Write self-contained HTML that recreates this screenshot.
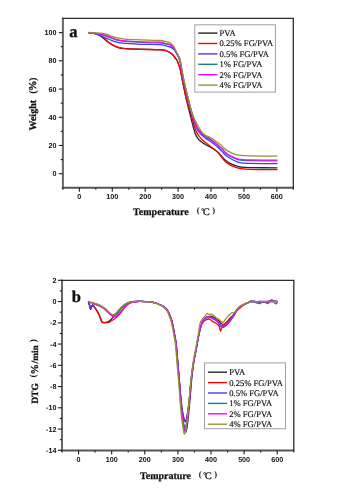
<!DOCTYPE html>
<html><head><meta charset="utf-8"><style>html,body{margin:0;padding:0;background:#fff;width:342px;height:491px;overflow:hidden}svg{display:block;will-change:transform;filter:blur(0.25px)}</style></head>
<body>
<svg width="342" height="491" viewBox="0 0 342 491">
<style>
text{font-family:"Liberation Serif",serif;fill:#111;text-rendering:geometricPrecision}
.tl{text-rendering:geometricPrecision;font-family:"Liberation Sans",sans-serif;font-size:7.2px;font-weight:bold;fill:#111}
.lg{font-size:8.6px;fill:#111;stroke:#111;stroke-width:0.15px}
.ti{font-size:10px;font-weight:bold;stroke:#111;stroke-width:0.25px}
.pl{font-size:16.5px;font-weight:bold;stroke:#111;stroke-width:0.3px}
</style>
<rect width="342" height="491" fill="#fff"/>
<line x1="62.90" y1="17.80" x2="62.90" y2="188.85" stroke="#666" stroke-width="2"/>
<line x1="61.90" y1="187.85" x2="293.90" y2="187.85" stroke="#555" stroke-width="2"/>
<line x1="61.90" y1="18.40" x2="293.95" y2="18.40" stroke="#2c2c2c" stroke-width="1.3"/>
<line x1="293.30" y1="18.40" x2="293.30" y2="187.85" stroke="#2c2c2c" stroke-width="1.3"/>
<line x1="58.80" y1="173.70" x2="62.90" y2="173.70" stroke="#1e1e1e" stroke-width="1.1"/>
<text x="56.4" y="176.25" class="tl" text-anchor="end">0</text>
<line x1="60.70" y1="159.59" x2="62.90" y2="159.59" stroke="#1e1e1e" stroke-width="1.1"/>
<line x1="58.80" y1="145.48" x2="62.90" y2="145.48" stroke="#1e1e1e" stroke-width="1.1"/>
<text x="56.4" y="148.03" class="tl" text-anchor="end">20</text>
<line x1="60.70" y1="131.37" x2="62.90" y2="131.37" stroke="#1e1e1e" stroke-width="1.1"/>
<line x1="58.80" y1="117.26" x2="62.90" y2="117.26" stroke="#1e1e1e" stroke-width="1.1"/>
<text x="56.4" y="119.81" class="tl" text-anchor="end">40</text>
<line x1="60.70" y1="103.15" x2="62.90" y2="103.15" stroke="#1e1e1e" stroke-width="1.1"/>
<line x1="58.80" y1="89.04" x2="62.90" y2="89.04" stroke="#1e1e1e" stroke-width="1.1"/>
<text x="56.4" y="91.59" class="tl" text-anchor="end">60</text>
<line x1="60.70" y1="74.93" x2="62.90" y2="74.93" stroke="#1e1e1e" stroke-width="1.1"/>
<line x1="58.80" y1="60.82" x2="62.90" y2="60.82" stroke="#1e1e1e" stroke-width="1.1"/>
<text x="56.4" y="63.37" class="tl" text-anchor="end">80</text>
<line x1="60.70" y1="46.71" x2="62.90" y2="46.71" stroke="#1e1e1e" stroke-width="1.1"/>
<line x1="58.80" y1="32.60" x2="62.90" y2="32.60" stroke="#1e1e1e" stroke-width="1.1"/>
<text x="56.4" y="35.15" class="tl" text-anchor="end">100</text>
<line x1="62.90" y1="187.85" x2="62.90" y2="189.75" stroke="#1e1e1e" stroke-width="1.1"/>
<line x1="79.36" y1="187.85" x2="79.36" y2="191.65" stroke="#1e1e1e" stroke-width="1.1"/>
<text x="79.36" y="199.20" class="tl" text-anchor="middle">0</text>
<line x1="95.81" y1="187.85" x2="95.81" y2="189.75" stroke="#1e1e1e" stroke-width="1.1"/>
<line x1="112.27" y1="187.85" x2="112.27" y2="191.65" stroke="#1e1e1e" stroke-width="1.1"/>
<text x="112.27" y="199.20" class="tl" text-anchor="middle">100</text>
<line x1="128.73" y1="187.85" x2="128.73" y2="189.75" stroke="#1e1e1e" stroke-width="1.1"/>
<line x1="145.19" y1="187.85" x2="145.19" y2="191.65" stroke="#1e1e1e" stroke-width="1.1"/>
<text x="145.19" y="199.20" class="tl" text-anchor="middle">200</text>
<line x1="161.64" y1="187.85" x2="161.64" y2="189.75" stroke="#1e1e1e" stroke-width="1.1"/>
<line x1="178.10" y1="187.85" x2="178.10" y2="191.65" stroke="#1e1e1e" stroke-width="1.1"/>
<text x="178.10" y="199.20" class="tl" text-anchor="middle">300</text>
<line x1="194.56" y1="187.85" x2="194.56" y2="189.75" stroke="#1e1e1e" stroke-width="1.1"/>
<line x1="211.01" y1="187.85" x2="211.01" y2="191.65" stroke="#1e1e1e" stroke-width="1.1"/>
<text x="211.01" y="199.20" class="tl" text-anchor="middle">400</text>
<line x1="227.47" y1="187.85" x2="227.47" y2="189.75" stroke="#1e1e1e" stroke-width="1.1"/>
<line x1="243.93" y1="187.85" x2="243.93" y2="191.65" stroke="#1e1e1e" stroke-width="1.1"/>
<text x="243.93" y="199.20" class="tl" text-anchor="middle">500</text>
<line x1="260.39" y1="187.85" x2="260.39" y2="189.75" stroke="#1e1e1e" stroke-width="1.1"/>
<line x1="276.84" y1="187.85" x2="276.84" y2="191.65" stroke="#1e1e1e" stroke-width="1.1"/>
<text x="276.84" y="199.20" class="tl" text-anchor="middle">600</text>
<line x1="293.30" y1="187.85" x2="293.30" y2="189.75" stroke="#1e1e1e" stroke-width="1.1"/>
<rect x="194.80" y="24.80" width="80.60" height="67.30" fill="#fff" stroke="#a0a0a0" stroke-width="1"/>
<line x1="198.20" y1="33.10" x2="217.40" y2="33.10" stroke="#262626" stroke-width="1.4"/>
<text x="219.50" y="36.00" class="lg">PVA</text>
<line x1="198.20" y1="43.50" x2="217.40" y2="43.50" stroke="#ff0000" stroke-width="1.4"/>
<text x="219.50" y="46.40" class="lg">0.25% FG/PVA</text>
<line x1="198.20" y1="53.90" x2="217.40" y2="53.90" stroke="#3c3cff" stroke-width="1.4"/>
<text x="219.50" y="56.80" class="lg">0.5% FG/PVA</text>
<line x1="198.20" y1="64.30" x2="217.40" y2="64.30" stroke="#128282" stroke-width="1.4"/>
<text x="219.50" y="67.20" class="lg">1% FG/PVA</text>
<line x1="198.20" y1="74.70" x2="217.40" y2="74.70" stroke="#ff00ff" stroke-width="1.4"/>
<text x="219.50" y="77.60" class="lg">2% FG/PVA</text>
<line x1="198.20" y1="85.10" x2="217.40" y2="85.10" stroke="#949430" stroke-width="1.4"/>
<text x="219.50" y="88.00" class="lg">4% FG/PVA</text>
<path d="M89.00,32.80 C90.00,32.93 93.33,33.20 95.00,33.60 C96.67,34.00 97.67,34.48 99.00,35.20 C100.33,35.92 101.67,36.88 103.00,37.90 C104.33,38.92 105.67,40.23 107.00,41.30 C108.33,42.37 109.67,43.45 111.00,44.30 C112.33,45.15 113.67,45.82 115.00,46.40 C116.33,46.98 117.67,47.47 119.00,47.80 C120.33,48.13 121.50,48.23 123.00,48.40 C124.50,48.57 125.17,48.67 128.00,48.80 C130.83,48.93 134.67,49.05 140.00,49.20 C145.33,49.35 155.83,49.50 160.00,49.70 C164.17,49.90 163.67,50.10 165.00,50.40 C166.33,50.70 167.00,51.02 168.00,51.50 C169.00,51.98 170.13,52.68 171.00,53.30 C171.87,53.92 172.50,54.42 173.20,55.20 C173.90,55.98 174.57,57.15 175.20,58.00 C175.83,58.85 176.43,59.23 177.00,60.30 C177.57,61.37 178.07,62.95 178.60,64.40 C179.13,65.85 179.58,66.40 180.20,69.00 C180.82,71.60 181.60,76.50 182.30,80.00 C183.00,83.50 183.70,86.67 184.40,90.00 C185.10,93.33 185.65,96.33 186.50,100.00 C187.35,103.67 188.63,108.53 189.50,112.00 C190.37,115.47 190.98,118.00 191.70,120.80 C192.42,123.60 193.08,126.37 193.80,128.80 C194.52,131.23 195.13,133.57 196.00,135.40 C196.87,137.23 197.83,138.53 199.00,139.80 C200.17,141.07 201.72,142.10 203.00,143.00 C204.28,143.90 205.48,144.53 206.70,145.20 C207.92,145.87 209.08,146.33 210.30,147.00 C211.52,147.67 212.78,148.35 214.00,149.20 C215.22,150.05 216.38,151.00 217.60,152.10 C218.82,153.20 220.03,154.48 221.30,155.80 C222.57,157.12 223.68,158.70 225.20,160.00 C226.72,161.30 228.68,162.67 230.40,163.60 C232.12,164.53 233.80,165.03 235.50,165.60 C237.20,166.17 238.18,166.67 240.60,167.00 C243.02,167.33 243.93,167.47 250.00,167.60 C256.07,167.73 272.50,167.77 277.00,167.80" fill="none" stroke="#262626" stroke-width="1.30" stroke-linejoin="round" stroke-linecap="round"/>
<path d="M89.00,32.80 C90.00,32.92 93.33,33.15 95.00,33.50 C96.67,33.85 97.67,34.25 99.00,34.90 C100.33,35.55 101.67,36.43 103.00,37.40 C104.33,38.37 105.67,39.62 107.00,40.70 C108.33,41.78 109.67,42.98 111.00,43.90 C112.33,44.82 113.67,45.57 115.00,46.20 C116.33,46.83 117.67,47.33 119.00,47.70 C120.33,48.07 121.50,48.22 123.00,48.40 C124.50,48.58 125.17,48.65 128.00,48.80 C130.83,48.95 134.67,49.13 140.00,49.30 C145.33,49.47 155.83,49.62 160.00,49.80 C164.17,49.98 163.67,50.12 165.00,50.40 C166.33,50.68 167.00,51.02 168.00,51.50 C169.00,51.98 170.13,52.68 171.00,53.30 C171.87,53.92 172.50,54.42 173.20,55.20 C173.90,55.98 174.57,57.15 175.20,58.00 C175.83,58.85 176.43,59.23 177.00,60.30 C177.57,61.37 178.07,62.95 178.60,64.40 C179.13,65.85 179.57,66.40 180.20,69.00 C180.83,71.60 181.68,76.50 182.40,80.00 C183.12,83.50 183.80,86.67 184.50,90.00 C185.20,93.33 185.58,96.33 186.60,100.00 C187.62,103.67 189.57,108.53 190.60,112.00 C191.63,115.47 192.08,118.12 192.80,120.80 C193.52,123.48 194.12,125.92 194.90,128.10 C195.68,130.28 196.58,132.32 197.50,133.90 C198.42,135.48 199.48,136.52 200.40,137.60 C201.32,138.68 201.95,139.43 203.00,140.40 C204.05,141.37 205.48,142.42 206.70,143.40 C207.92,144.38 209.08,145.33 210.30,146.30 C211.52,147.27 212.78,148.23 214.00,149.20 C215.22,150.17 216.52,151.00 217.60,152.10 C218.68,153.20 219.23,154.23 220.50,155.80 C221.77,157.37 223.55,159.95 225.20,161.50 C226.85,163.05 228.68,164.15 230.40,165.10 C232.12,166.05 233.80,166.63 235.50,167.20 C237.20,167.77 238.18,168.15 240.60,168.50 C243.02,168.85 243.93,169.10 250.00,169.30 C256.07,169.50 272.50,169.63 277.00,169.70" fill="none" stroke="#ff0000" stroke-width="1.30" stroke-linejoin="round" stroke-linecap="round"/>
<path d="M89.00,32.80 C90.00,32.92 93.17,33.08 95.00,33.50 C96.83,33.92 98.50,34.70 100.00,35.30 C101.50,35.90 102.67,36.48 104.00,37.10 C105.33,37.72 106.67,38.42 108.00,39.00 C109.33,39.58 110.67,40.12 112.00,40.60 C113.33,41.08 114.67,41.53 116.00,41.90 C117.33,42.27 118.50,42.55 120.00,42.80 C121.50,43.05 121.67,43.15 125.00,43.40 C128.33,43.65 134.17,44.10 140.00,44.30 C145.83,44.50 155.83,44.37 160.00,44.60 C164.17,44.83 163.33,45.33 165.00,45.70 C166.67,46.07 168.75,46.33 170.00,46.80 C171.25,47.27 171.75,47.97 172.50,48.50 C173.25,49.03 173.70,48.92 174.50,50.00 C175.30,51.08 176.45,53.33 177.30,55.00 C178.15,56.67 178.90,57.50 179.60,60.00 C180.30,62.50 180.88,66.67 181.50,70.00 C182.12,73.33 182.62,76.67 183.30,80.00 C183.98,83.33 184.82,86.67 185.60,90.00 C186.38,93.33 186.98,96.08 188.00,100.00 C189.02,103.92 190.60,109.67 191.70,113.50 C192.80,117.33 193.75,120.45 194.60,123.00 C195.45,125.55 195.95,127.10 196.80,128.80 C197.65,130.50 198.67,132.00 199.70,133.20 C200.73,134.40 201.95,135.10 203.00,136.00 C204.05,136.90 204.78,137.73 206.00,138.60 C207.22,139.47 208.97,140.28 210.30,141.20 C211.63,142.12 212.78,143.13 214.00,144.10 C215.22,145.07 216.27,145.78 217.60,147.00 C218.93,148.22 220.68,150.03 222.00,151.40 C223.32,152.77 224.10,154.02 225.50,155.20 C226.90,156.38 228.73,157.53 230.40,158.50 C232.07,159.47 233.80,160.27 235.50,161.00 C237.20,161.73 238.18,162.50 240.60,162.90 C243.02,163.30 243.93,163.28 250.00,163.40 C256.07,163.52 272.50,163.57 277.00,163.60" fill="none" stroke="#3c3cff" stroke-width="1.30" stroke-linejoin="round" stroke-linecap="round"/>
<path d="M89.00,32.64 C90.00,32.75 93.17,33.02 95.00,33.27 C96.83,33.51 98.50,33.77 100.00,34.13 C101.50,34.49 103.17,35.13 104.00,35.40 C104.83,35.67 104.33,35.48 105.00,35.72 C105.67,35.96 107.17,36.53 108.00,36.83 C108.83,37.13 109.33,37.29 110.00,37.54 C110.67,37.79 111.00,37.95 112.00,38.34 C113.00,38.73 114.67,39.49 116.00,39.87 C117.33,40.25 118.50,40.36 120.00,40.62 C121.50,40.89 121.67,41.15 125.00,41.45 C128.33,41.75 134.17,42.21 140.00,42.43 C145.83,42.64 155.83,42.49 160.00,42.73 C164.17,42.96 163.33,43.46 165.00,43.83 C166.67,44.19 168.75,44.41 170.00,44.93 C171.25,45.45 171.75,46.19 172.50,46.94 C173.25,47.69 174.08,48.91 174.50,49.45 C174.92,50.00 174.53,49.39 175.00,50.20 C175.47,51.00 176.83,53.46 177.30,54.30 C177.77,55.14 177.42,54.41 177.80,55.24 C178.18,56.07 179.23,58.42 179.60,59.29 C179.97,60.16 179.68,58.89 180.00,60.46 C180.32,62.03 181.20,67.05 181.50,68.70 C181.80,70.35 181.50,68.76 181.80,70.37 C182.10,71.98 182.98,76.69 183.30,78.36 C183.62,80.03 183.32,78.67 183.70,80.38 C184.08,82.10 185.22,86.98 185.60,88.64 C185.98,90.31 185.60,88.73 186.00,90.37 C186.40,92.00 187.58,96.77 188.00,98.44 C188.42,100.11 187.88,98.09 188.50,100.40 C189.12,102.72 190.68,108.84 191.70,112.33 C192.72,115.82 194.00,119.49 194.60,121.33 C195.20,123.18 194.93,122.46 195.30,123.41 C195.67,124.35 196.43,126.14 196.80,126.99 C197.17,127.84 197.02,127.76 197.50,128.49 C197.98,129.21 199.22,130.74 199.70,131.35 C200.18,131.96 199.85,131.62 200.40,132.16 C200.95,132.70 202.07,133.80 203.00,134.60 C203.93,135.40 204.78,136.15 206.00,136.96 C207.22,137.78 208.97,138.59 210.30,139.48 C211.63,140.37 212.78,141.34 214.00,142.31 C215.22,143.27 216.27,144.15 217.60,145.28 C218.93,146.42 220.68,147.84 222.00,149.14 C223.32,150.44 224.10,151.87 225.50,153.09 C226.90,154.32 228.73,155.54 230.40,156.47 C232.07,157.40 233.80,158.04 235.50,158.66 C237.20,159.28 238.18,159.84 240.60,160.17 C243.02,160.51 243.93,160.55 250.00,160.67 C256.07,160.79 272.50,160.84 277.00,160.87" fill="none" stroke="#128282" stroke-width="1.30" stroke-linejoin="round" stroke-linecap="round"/>
<path d="M89.00,32.60 C90.00,32.70 93.17,33.00 95.00,33.20 C96.83,33.40 98.33,33.47 100.00,33.80 C101.67,34.13 103.33,34.68 105.00,35.20 C106.67,35.72 108.17,36.22 110.00,36.90 C111.83,37.58 113.50,38.63 116.00,39.30 C118.50,39.97 121.00,40.47 125.00,40.90 C129.00,41.33 134.17,41.68 140.00,41.90 C145.83,42.12 155.83,41.97 160.00,42.20 C164.17,42.43 163.33,42.93 165.00,43.30 C166.67,43.67 168.75,43.87 170.00,44.40 C171.25,44.93 171.67,45.57 172.50,46.50 C173.33,47.43 174.12,48.58 175.00,50.00 C175.88,51.42 176.97,53.33 177.80,55.00 C178.63,56.67 179.33,57.50 180.00,60.00 C180.67,62.50 181.18,66.67 181.80,70.00 C182.42,73.33 183.00,76.67 183.70,80.00 C184.40,83.33 185.20,86.67 186.00,90.00 C186.80,93.33 187.55,96.33 188.50,100.00 C189.45,103.67 190.57,108.17 191.70,112.00 C192.83,115.83 194.33,120.32 195.30,123.00 C196.27,125.68 196.65,126.65 197.50,128.10 C198.35,129.55 199.48,130.68 200.40,131.70 C201.32,132.72 202.07,133.40 203.00,134.20 C203.93,135.00 204.78,135.70 206.00,136.50 C207.22,137.30 208.97,138.12 210.30,139.00 C211.63,139.88 212.78,140.83 214.00,141.80 C215.22,142.77 216.27,143.68 217.60,144.80 C218.93,145.92 220.68,147.22 222.00,148.50 C223.32,149.78 224.10,151.27 225.50,152.50 C226.90,153.73 228.73,154.98 230.40,155.90 C232.07,156.82 233.80,157.42 235.50,158.00 C237.20,158.58 238.18,159.08 240.60,159.40 C243.02,159.72 243.93,159.78 250.00,159.90 C256.07,160.02 272.50,160.07 277.00,160.10" fill="none" stroke="#ff00ff" stroke-width="1.30" stroke-linejoin="round" stroke-linecap="round"/>
<path d="M89.00,32.50 C90.83,32.62 97.33,32.95 100.00,33.20 C102.67,33.45 103.33,33.62 105.00,34.00 C106.67,34.38 108.17,34.88 110.00,35.50 C111.83,36.12 113.50,37.10 116.00,37.70 C118.50,38.30 121.00,38.75 125.00,39.10 C129.00,39.45 134.17,39.57 140.00,39.80 C145.83,40.03 155.83,40.25 160.00,40.50 C164.17,40.75 163.33,40.92 165.00,41.30 C166.67,41.68 168.58,42.02 170.00,42.80 C171.42,43.58 172.58,44.80 173.50,46.00 C174.42,47.20 174.75,48.50 175.50,50.00 C176.25,51.50 177.22,53.33 178.00,55.00 C178.78,56.67 179.53,57.50 180.20,60.00 C180.87,62.50 181.38,66.67 182.00,70.00 C182.62,73.33 183.20,76.67 183.90,80.00 C184.60,83.33 185.42,86.67 186.20,90.00 C186.98,93.33 187.80,96.67 188.60,100.00 C189.40,103.33 190.10,107.00 191.00,110.00 C191.90,113.00 193.00,115.67 194.00,118.00 C195.00,120.33 195.93,122.00 197.00,124.00 C198.07,126.00 199.40,128.42 200.40,130.00 C201.40,131.58 202.07,132.57 203.00,133.50 C203.93,134.43 204.78,134.93 206.00,135.60 C207.22,136.27 208.97,136.80 210.30,137.50 C211.63,138.20 212.78,138.95 214.00,139.80 C215.22,140.65 216.27,141.58 217.60,142.60 C218.93,143.62 220.73,144.78 222.00,145.90 C223.27,147.02 223.80,148.23 225.20,149.30 C226.60,150.37 228.68,151.45 230.40,152.30 C232.12,153.15 233.80,153.88 235.50,154.40 C237.20,154.92 238.18,155.15 240.60,155.40 C243.02,155.65 243.93,155.77 250.00,155.90 C256.07,156.03 272.50,156.15 277.00,156.20" fill="none" stroke="#949430" stroke-width="1.30" stroke-linejoin="round" stroke-linecap="round"/>
<text x="69.3" y="37.1" class="pl">a</text>
<text x="133.05" y="214.8" class="ti">Temperature</text><text x="196.70" y="213.30" style="font-size:8.5px;font-weight:bold">(</text><text x="201.30" y="212.70" style="font-size:7px;stroke:#111;stroke-width:0.2px">°</text><text x="203.00" y="215.10" style="font-size:10px;stroke:#111;stroke-width:0.3px">C</text><text x="212.20" y="213.30" style="font-size:8.5px;font-weight:bold">)</text>
<g transform="translate(36.1,130.4) rotate(-90)"><text x="-0.14" y="0" class="ti">Weight</text><text x="36.7" y="0" style="font-size:10.5px;font-weight:bold">(</text><text x="39.4" y="0" style="font-size:10.5px;font-weight:bold;stroke:#111;stroke-width:0.3px">%</text><text x="49.5" y="0" style="font-size:10.5px;font-weight:bold">)</text></g>
<line x1="62.00" y1="279.80" x2="62.00" y2="451.60" stroke="#666" stroke-width="2"/>
<line x1="61.00" y1="450.60" x2="294.40" y2="450.60" stroke="#555" stroke-width="2"/>
<line x1="61.00" y1="280.40" x2="294.45" y2="280.40" stroke="#2c2c2c" stroke-width="1.3"/>
<line x1="293.80" y1="280.40" x2="293.80" y2="450.60" stroke="#2c2c2c" stroke-width="1.3"/>
<line x1="57.90" y1="450.30" x2="62.00" y2="450.30" stroke="#1e1e1e" stroke-width="1.1"/>
<text x="56.4" y="452.85" class="tl" text-anchor="end">-14</text>
<line x1="59.80" y1="439.68" x2="62.00" y2="439.68" stroke="#1e1e1e" stroke-width="1.1"/>
<line x1="57.90" y1="429.05" x2="62.00" y2="429.05" stroke="#1e1e1e" stroke-width="1.1"/>
<text x="56.4" y="431.60" class="tl" text-anchor="end">-12</text>
<line x1="59.80" y1="418.43" x2="62.00" y2="418.43" stroke="#1e1e1e" stroke-width="1.1"/>
<line x1="57.90" y1="407.80" x2="62.00" y2="407.80" stroke="#1e1e1e" stroke-width="1.1"/>
<text x="56.4" y="410.35" class="tl" text-anchor="end">-10</text>
<line x1="59.80" y1="397.18" x2="62.00" y2="397.18" stroke="#1e1e1e" stroke-width="1.1"/>
<line x1="57.90" y1="386.55" x2="62.00" y2="386.55" stroke="#1e1e1e" stroke-width="1.1"/>
<text x="56.4" y="389.10" class="tl" text-anchor="end">-8</text>
<line x1="59.80" y1="375.93" x2="62.00" y2="375.93" stroke="#1e1e1e" stroke-width="1.1"/>
<line x1="57.90" y1="365.30" x2="62.00" y2="365.30" stroke="#1e1e1e" stroke-width="1.1"/>
<text x="56.4" y="367.85" class="tl" text-anchor="end">-6</text>
<line x1="59.80" y1="354.68" x2="62.00" y2="354.68" stroke="#1e1e1e" stroke-width="1.1"/>
<line x1="57.90" y1="344.05" x2="62.00" y2="344.05" stroke="#1e1e1e" stroke-width="1.1"/>
<text x="56.4" y="346.60" class="tl" text-anchor="end">-4</text>
<line x1="59.80" y1="333.43" x2="62.00" y2="333.43" stroke="#1e1e1e" stroke-width="1.1"/>
<line x1="57.90" y1="322.80" x2="62.00" y2="322.80" stroke="#1e1e1e" stroke-width="1.1"/>
<text x="56.4" y="325.35" class="tl" text-anchor="end">-2</text>
<line x1="59.80" y1="312.18" x2="62.00" y2="312.18" stroke="#1e1e1e" stroke-width="1.1"/>
<line x1="57.90" y1="301.55" x2="62.00" y2="301.55" stroke="#1e1e1e" stroke-width="1.1"/>
<text x="56.4" y="304.10" class="tl" text-anchor="end">0</text>
<line x1="59.80" y1="290.93" x2="62.00" y2="290.93" stroke="#1e1e1e" stroke-width="1.1"/>
<line x1="57.90" y1="280.30" x2="62.00" y2="280.30" stroke="#1e1e1e" stroke-width="1.1"/>
<text x="56.4" y="282.85" class="tl" text-anchor="end">2</text>
<line x1="62.00" y1="450.60" x2="62.00" y2="452.50" stroke="#1e1e1e" stroke-width="1.1"/>
<line x1="78.56" y1="450.60" x2="78.56" y2="454.40" stroke="#1e1e1e" stroke-width="1.1"/>
<text x="78.56" y="461.80" class="tl" text-anchor="middle">0</text>
<line x1="95.11" y1="450.60" x2="95.11" y2="452.50" stroke="#1e1e1e" stroke-width="1.1"/>
<line x1="111.67" y1="450.60" x2="111.67" y2="454.40" stroke="#1e1e1e" stroke-width="1.1"/>
<text x="111.67" y="461.80" class="tl" text-anchor="middle">100</text>
<line x1="128.23" y1="450.60" x2="128.23" y2="452.50" stroke="#1e1e1e" stroke-width="1.1"/>
<line x1="144.79" y1="450.60" x2="144.79" y2="454.40" stroke="#1e1e1e" stroke-width="1.1"/>
<text x="144.79" y="461.80" class="tl" text-anchor="middle">200</text>
<line x1="161.34" y1="450.60" x2="161.34" y2="452.50" stroke="#1e1e1e" stroke-width="1.1"/>
<line x1="177.90" y1="450.60" x2="177.90" y2="454.40" stroke="#1e1e1e" stroke-width="1.1"/>
<text x="177.90" y="461.80" class="tl" text-anchor="middle">300</text>
<line x1="194.46" y1="450.60" x2="194.46" y2="452.50" stroke="#1e1e1e" stroke-width="1.1"/>
<line x1="211.01" y1="450.60" x2="211.01" y2="454.40" stroke="#1e1e1e" stroke-width="1.1"/>
<text x="211.01" y="461.80" class="tl" text-anchor="middle">400</text>
<line x1="227.57" y1="450.60" x2="227.57" y2="452.50" stroke="#1e1e1e" stroke-width="1.1"/>
<line x1="244.13" y1="450.60" x2="244.13" y2="454.40" stroke="#1e1e1e" stroke-width="1.1"/>
<text x="244.13" y="461.80" class="tl" text-anchor="middle">500</text>
<line x1="260.69" y1="450.60" x2="260.69" y2="452.50" stroke="#1e1e1e" stroke-width="1.1"/>
<line x1="277.24" y1="450.60" x2="277.24" y2="454.40" stroke="#1e1e1e" stroke-width="1.1"/>
<text x="277.24" y="461.80" class="tl" text-anchor="middle">600</text>
<line x1="293.80" y1="450.60" x2="293.80" y2="452.50" stroke="#1e1e1e" stroke-width="1.1"/>
<rect x="204.50" y="362.90" width="81.00" height="65.80" fill="#fff" stroke="#a0a0a0" stroke-width="1"/>
<line x1="207.90" y1="372.20" x2="227.10" y2="372.20" stroke="#262626" stroke-width="1.4"/>
<text x="229.20" y="375.10" class="lg">PVA</text>
<line x1="207.90" y1="382.60" x2="227.10" y2="382.60" stroke="#ff0000" stroke-width="1.4"/>
<text x="229.20" y="385.50" class="lg">0.25% FG/PVA</text>
<line x1="207.90" y1="393.00" x2="227.10" y2="393.00" stroke="#3c3cff" stroke-width="1.4"/>
<text x="229.20" y="395.90" class="lg">0.5% FG/PVA</text>
<line x1="207.90" y1="403.40" x2="227.10" y2="403.40" stroke="#128282" stroke-width="1.4"/>
<text x="229.20" y="406.30" class="lg">1% FG/PVA</text>
<line x1="207.90" y1="413.80" x2="227.10" y2="413.80" stroke="#ff00ff" stroke-width="1.4"/>
<text x="229.20" y="416.70" class="lg">2% FG/PVA</text>
<line x1="207.90" y1="424.20" x2="227.10" y2="424.20" stroke="#949430" stroke-width="1.4"/>
<text x="229.20" y="427.10" class="lg">4% FG/PVA</text>
<path d="M88.50,302.50 C88.67,303.00 89.17,304.37 89.50,305.50 C89.83,306.63 90.17,308.97 90.50,309.30 C90.83,309.63 91.15,308.17 91.50,307.50 C91.85,306.83 92.18,305.50 92.60,305.30 C93.02,305.10 93.48,305.72 94.00,306.30 C94.52,306.88 95.12,307.93 95.70,308.80 C96.28,309.67 96.90,310.47 97.50,311.50 C98.10,312.53 98.57,313.33 99.30,315.00 C100.03,316.67 101.20,320.27 101.90,321.50 C102.60,322.73 102.92,322.23 103.50,322.40 C104.08,322.57 104.65,322.60 105.40,322.50 C106.15,322.40 107.07,322.30 108.00,321.80 C108.93,321.30 109.83,320.63 111.00,319.50 C112.17,318.37 113.67,316.55 115.00,315.00 C116.33,313.45 117.67,311.70 119.00,310.20 C120.33,308.70 121.67,307.20 123.00,306.00 C124.33,304.80 125.67,303.70 127.00,303.00 C128.33,302.30 129.25,302.10 131.00,301.80 C132.75,301.50 135.38,301.27 137.50,301.20 C139.62,301.13 141.62,301.28 143.70,301.40 C145.78,301.52 148.27,301.68 150.00,301.90 C151.73,302.12 152.73,302.35 154.10,302.70 C155.47,303.05 156.83,303.48 158.20,304.00 C159.57,304.52 161.10,305.13 162.30,305.80 C163.50,306.47 164.52,307.20 165.40,308.00 C166.28,308.80 166.95,309.60 167.60,310.60 C168.25,311.60 168.77,312.77 169.30,314.00 C169.83,315.23 170.32,316.62 170.80,318.00 C171.28,319.38 171.67,320.05 172.20,322.30 C172.73,324.55 173.37,328.13 174.00,331.50 C174.63,334.87 175.47,338.50 176.00,342.50 C176.53,346.50 176.80,350.92 177.20,355.50 C177.60,360.08 177.98,365.08 178.40,370.00 C178.82,374.92 179.30,380.00 179.70,385.00 C180.10,390.00 180.42,395.33 180.80,400.00 C181.18,404.67 181.55,409.00 182.00,413.00 C182.45,417.00 183.00,421.00 183.50,424.00 C184.00,427.00 184.62,429.67 185.00,431.00 C185.38,432.33 185.50,432.33 185.80,432.00 C186.10,431.67 186.43,431.00 186.80,429.00 C187.17,427.00 187.55,424.00 188.00,420.00 C188.45,416.00 189.03,410.00 189.50,405.00 C189.97,400.00 190.38,394.83 190.80,390.00 C191.22,385.17 191.50,380.67 192.00,376.00 C192.50,371.33 193.10,366.42 193.80,362.00 C194.50,357.58 195.43,353.63 196.20,349.50 C196.97,345.37 197.78,340.45 198.40,337.20 C199.02,333.95 199.35,332.28 199.90,330.00 C200.45,327.72 201.05,325.23 201.70,323.50 C202.35,321.77 203.05,320.62 203.80,319.60 C204.55,318.58 205.42,317.90 206.20,317.40 C206.98,316.90 207.67,316.78 208.50,316.60 C209.33,316.42 210.23,316.15 211.20,316.30 C212.17,316.45 213.38,316.97 214.30,317.50 C215.22,318.03 215.88,318.88 216.70,319.50 C217.52,320.12 218.48,320.53 219.20,321.20 C219.92,321.87 220.28,322.95 221.00,323.50 C221.72,324.05 222.60,324.67 223.50,324.50 C224.40,324.33 225.33,323.50 226.38,322.50 C227.43,321.50 228.59,319.83 229.81,318.50 C231.03,317.17 232.53,315.92 233.72,314.50 C234.92,313.08 235.92,311.33 236.97,310.00 C238.01,308.67 238.73,307.50 239.99,306.50 C241.25,305.50 243.00,304.70 244.52,304.00 C246.04,303.30 247.77,302.72 249.12,302.30 C250.46,301.88 250.79,301.60 252.60,301.50 C254.42,301.40 257.43,301.72 260.00,301.70 C262.57,301.68 265.17,301.43 268.00,301.40 C270.83,301.37 275.50,301.48 277.00,301.50" fill="none" stroke="#262626" stroke-width="1.30" stroke-linejoin="round" stroke-linecap="round"/>
<path d="M88.50,302.00 C88.67,302.42 89.17,303.58 89.50,304.50 C89.83,305.42 90.17,307.17 90.50,307.50 C90.83,307.83 91.15,306.87 91.50,306.50 C91.85,306.13 92.18,305.30 92.60,305.30 C93.02,305.30 93.48,305.87 94.00,306.50 C94.52,307.13 95.12,308.18 95.70,309.10 C96.28,310.02 96.90,310.93 97.50,312.00 C98.10,313.07 98.57,313.82 99.30,315.50 C100.03,317.18 100.88,320.92 101.90,322.10 C102.92,323.28 104.13,322.60 105.40,322.60 C106.67,322.60 108.13,322.62 109.50,322.10 C110.87,321.58 112.35,320.38 113.60,319.50 C114.85,318.62 115.77,317.97 117.00,316.80 C118.23,315.63 119.67,314.13 121.00,312.50 C122.33,310.87 123.67,308.50 125.00,307.00 C126.33,305.50 127.67,304.33 129.00,303.50 C130.33,302.67 131.17,302.35 133.00,302.00 C134.83,301.65 137.17,301.42 140.00,301.40 C142.83,301.38 147.65,301.68 150.00,301.90 C152.35,302.12 152.73,302.35 154.10,302.70 C155.47,303.05 156.83,303.48 158.20,304.00 C159.57,304.52 161.10,305.13 162.30,305.80 C163.50,306.47 164.52,307.20 165.40,308.00 C166.28,308.80 166.95,309.60 167.60,310.60 C168.25,311.60 168.77,312.77 169.30,314.00 C169.83,315.23 170.32,316.62 170.80,318.00 C171.28,319.38 171.67,320.05 172.20,322.30 C172.73,324.55 173.37,328.13 174.00,331.50 C174.63,334.87 175.47,338.50 176.00,342.50 C176.53,346.50 176.80,350.92 177.20,355.50 C177.60,360.08 177.98,365.08 178.40,370.00 C178.82,374.92 179.27,380.00 179.70,385.00 C180.13,390.00 180.53,395.67 181.00,400.00 C181.47,404.33 182.00,407.92 182.50,411.00 C183.00,414.08 183.53,416.83 184.00,418.50 C184.47,420.17 184.88,421.00 185.30,421.00 C185.72,421.00 186.05,420.33 186.50,418.50 C186.95,416.67 187.53,413.08 188.00,410.00 C188.47,406.92 188.87,404.17 189.30,400.00 C189.73,395.83 190.17,389.37 190.60,385.00 C191.03,380.63 191.38,377.70 191.90,373.80 C192.42,369.90 193.00,365.67 193.70,361.60 C194.40,357.53 195.33,353.47 196.10,349.40 C196.87,345.33 197.68,340.43 198.30,337.20 C198.92,333.97 199.25,332.07 199.80,330.00 C200.35,327.93 200.97,326.20 201.60,324.80 C202.23,323.40 202.87,322.43 203.60,321.60 C204.33,320.77 205.18,320.23 206.00,319.80 C206.82,319.37 207.75,319.00 208.50,319.00 C209.25,319.00 209.83,319.40 210.50,319.80 C211.17,320.20 211.57,320.83 212.50,321.40 C213.43,321.97 214.98,322.38 216.10,323.20 C217.22,324.02 218.48,324.97 219.20,326.30 C219.92,327.63 219.88,331.22 220.40,331.20 C220.92,331.18 221.61,327.37 222.30,326.20 C222.99,325.03 223.72,324.82 224.54,324.20 C225.35,323.58 226.08,323.47 227.19,322.50 C228.29,321.53 229.86,320.07 231.17,318.40 C232.47,316.73 233.56,314.25 235.03,312.50 C236.50,310.75 238.39,309.25 239.99,307.90 C241.58,306.55 243.14,305.38 244.62,304.40 C246.09,303.42 247.62,302.50 248.85,302.00 C250.08,301.50 250.95,301.40 252.00,301.40 C253.05,301.40 253.82,301.93 255.15,302.00 C256.49,302.07 258.36,301.87 260.00,301.80 C261.64,301.73 263.33,301.65 265.00,301.60 C266.67,301.55 268.00,301.52 270.00,301.50 C272.00,301.48 275.83,301.50 277.00,301.50" fill="none" stroke="#ff0000" stroke-width="1.30" stroke-linejoin="round" stroke-linecap="round"/>
<path d="M88.50,302.00 C88.67,302.42 89.17,303.42 89.50,304.50 C89.83,305.58 90.17,308.12 90.50,308.50 C90.83,308.88 91.15,307.47 91.50,306.80 C91.85,306.13 92.30,305.02 92.60,304.50 C92.90,303.98 92.70,303.68 93.30,303.70 C93.90,303.72 95.03,304.18 96.20,304.60 C97.37,305.02 98.93,305.53 100.30,306.20 C101.67,306.87 103.20,307.73 104.40,308.60 C105.60,309.47 106.47,310.47 107.50,311.40 C108.53,312.33 109.67,313.57 110.60,314.20 C111.53,314.83 112.28,315.20 113.10,315.20 C113.92,315.20 114.68,314.73 115.50,314.20 C116.32,313.67 117.08,312.95 118.00,312.00 C118.92,311.05 119.83,309.67 121.00,308.50 C122.17,307.33 123.67,305.95 125.00,305.00 C126.33,304.05 127.67,303.30 129.00,302.80 C130.33,302.30 131.17,302.23 133.00,302.00 C134.83,301.77 137.17,301.42 140.00,301.40 C142.83,301.38 147.65,301.68 150.00,301.90 C152.35,302.12 152.73,302.35 154.10,302.70 C155.47,303.05 156.83,303.48 158.20,304.00 C159.57,304.52 161.10,305.13 162.30,305.80 C163.50,306.47 164.52,307.20 165.40,308.00 C166.28,308.80 166.95,309.60 167.60,310.60 C168.25,311.60 168.77,312.77 169.30,314.00 C169.83,315.23 170.32,316.62 170.80,318.00 C171.28,319.38 171.67,320.05 172.20,322.30 C172.73,324.55 173.37,328.13 174.00,331.50 C174.63,334.87 175.47,338.50 176.00,342.50 C176.53,346.50 176.80,350.92 177.20,355.50 C177.60,360.08 177.98,365.08 178.40,370.00 C178.82,374.92 179.27,380.00 179.70,385.00 C180.13,390.00 180.53,395.50 181.00,400.00 C181.47,404.50 182.00,408.75 182.50,412.00 C183.00,415.25 183.53,417.80 184.00,419.50 C184.47,421.20 184.88,422.20 185.30,422.20 C185.72,422.20 186.05,421.53 186.50,419.50 C186.95,417.47 187.53,413.25 188.00,410.00 C188.47,406.75 188.87,404.17 189.30,400.00 C189.73,395.83 190.17,389.37 190.60,385.00 C191.03,380.63 191.38,377.70 191.90,373.80 C192.42,369.90 193.00,365.67 193.70,361.60 C194.40,357.53 195.33,353.47 196.10,349.40 C196.87,345.33 197.68,340.43 198.30,337.20 C198.92,333.97 199.25,332.20 199.80,330.00 C200.35,327.80 200.97,325.62 201.60,324.00 C202.23,322.38 202.87,321.30 203.60,320.30 C204.33,319.30 205.18,318.52 206.00,318.00 C206.82,317.48 207.75,317.27 208.50,317.20 C209.25,317.13 209.75,317.33 210.50,317.60 C211.25,317.87 212.08,318.32 213.00,318.80 C213.92,319.28 215.08,319.80 216.00,320.50 C216.92,321.20 217.70,321.98 218.50,323.00 C219.30,324.02 219.91,325.90 220.80,326.60 C221.69,327.30 222.55,327.78 223.85,327.20 C225.14,326.62 226.91,324.97 228.56,323.10 C230.21,321.23 232.43,317.95 233.72,316.00 C235.02,314.05 235.28,312.82 236.33,311.40 C237.37,309.98 238.62,308.68 239.99,307.50 C241.35,306.32 243.00,305.17 244.52,304.30 C246.04,303.43 247.77,302.77 249.12,302.30 C250.46,301.83 251.46,301.62 252.60,301.50 C253.75,301.38 254.77,301.38 256.00,301.60 C257.23,301.82 258.67,302.82 260.00,302.80 C261.33,302.78 262.67,301.55 264.00,301.50 C265.33,301.45 266.67,302.55 268.00,302.50 C269.33,302.45 270.50,301.35 272.00,301.20 C273.50,301.05 276.17,301.53 277.00,301.60" fill="none" stroke="#3c3cff" stroke-width="1.30" stroke-linejoin="round" stroke-linecap="round"/>
<path d="M88.50,302.00 C88.75,302.08 89.42,302.33 90.00,302.50 C90.58,302.67 90.97,302.68 92.00,303.00 C93.03,303.32 94.82,303.88 96.20,304.40 C97.58,304.92 98.93,305.37 100.30,306.10 C101.67,306.83 103.20,307.88 104.40,308.80 C105.60,309.72 106.47,310.65 107.50,311.60 C108.53,312.55 109.67,313.83 110.60,314.50 C111.53,315.17 112.28,315.55 113.10,315.60 C113.92,315.65 114.68,315.32 115.50,314.80 C116.32,314.28 117.08,313.47 118.00,312.50 C118.92,311.53 119.83,310.17 121.00,309.00 C122.17,307.83 123.67,306.50 125.00,305.50 C126.33,304.50 127.67,303.58 129.00,303.00 C130.33,302.42 131.17,302.27 133.00,302.00 C134.83,301.73 137.20,301.42 140.00,301.40 C142.80,301.38 147.48,301.68 149.80,301.90 C152.12,302.12 152.53,302.35 153.90,302.70 C155.27,303.05 156.63,303.48 158.00,304.00 C159.37,304.52 160.90,305.13 162.10,305.80 C163.30,306.47 164.32,307.20 165.20,308.00 C166.08,308.80 166.75,309.60 167.40,310.60 C168.05,311.60 168.57,312.77 169.10,314.00 C169.63,315.23 170.12,316.62 170.60,318.00 C171.08,319.38 171.47,320.05 172.00,322.30 C172.53,324.55 173.17,328.13 173.80,331.50 C174.43,334.87 175.27,338.50 175.80,342.50 C176.33,346.50 176.60,350.92 177.00,355.50 C177.40,360.08 177.78,365.08 178.20,370.00 C178.62,374.92 179.08,380.00 179.50,385.00 C179.92,390.00 180.28,395.33 180.70,400.00 C181.12,404.67 181.53,409.17 182.00,413.00 C182.47,416.83 183.00,420.67 183.50,423.00 C184.00,425.33 184.52,426.83 185.00,427.00 C185.48,427.17 185.92,426.17 186.40,424.00 C186.88,421.83 187.42,417.83 187.90,414.00 C188.38,410.17 188.85,405.67 189.30,401.00 C189.75,396.33 190.17,390.50 190.60,386.00 C191.03,381.50 191.38,378.07 191.90,374.00 C192.42,369.93 193.00,365.70 193.70,361.60 C194.40,357.50 195.33,353.47 196.10,349.40 C196.87,345.33 197.68,340.43 198.30,337.20 C198.92,333.97 199.25,332.22 199.80,330.00 C200.35,327.78 200.97,325.57 201.60,323.90 C202.23,322.23 202.87,321.02 203.60,320.00 C204.33,318.98 205.18,318.30 206.00,317.80 C206.82,317.30 207.77,317.08 208.50,317.00 C209.23,316.92 209.65,317.05 210.40,317.30 C211.15,317.55 212.07,318.00 213.00,318.50 C213.93,319.00 215.08,319.58 216.00,320.30 C216.92,321.02 217.70,321.85 218.50,322.80 C219.30,323.75 219.91,325.33 220.80,326.00 C221.69,326.67 222.55,327.33 223.85,326.80 C225.14,326.27 226.91,324.63 228.56,322.80 C230.21,320.97 232.43,317.73 233.72,315.80 C235.02,313.87 235.28,312.62 236.33,311.20 C237.37,309.78 238.62,308.47 239.99,307.30 C241.35,306.13 243.15,305.00 244.52,304.20 C245.89,303.40 247.05,303.10 248.22,302.50 C249.40,301.90 250.56,300.72 251.57,300.60 C252.58,300.48 252.97,301.32 254.31,301.80 C255.65,302.28 258.15,303.55 259.60,303.50 C261.05,303.45 261.63,301.50 263.00,301.50 C264.37,301.50 266.32,303.82 267.80,303.50 C269.28,303.18 270.63,299.55 271.90,299.60 C273.17,299.65 274.55,303.32 275.40,303.80 C276.25,304.28 276.73,302.72 277.00,302.50" fill="none" stroke="#128282" stroke-width="1.30" stroke-linejoin="round" stroke-linecap="round"/>
<path d="M88.50,301.80 C88.75,301.87 89.42,302.05 90.00,302.20 C90.58,302.35 90.97,302.38 92.00,302.70 C93.03,303.02 94.82,303.57 96.20,304.10 C97.58,304.63 98.93,305.15 100.30,305.90 C101.67,306.65 103.20,307.67 104.40,308.60 C105.60,309.53 106.47,310.47 107.50,311.50 C108.53,312.53 109.60,313.92 110.60,314.80 C111.60,315.68 112.60,316.52 113.50,316.80 C114.40,317.08 115.07,317.05 116.00,316.50 C116.93,315.95 117.90,314.77 119.10,313.50 C120.30,312.23 121.83,310.35 123.20,308.90 C124.57,307.45 125.93,305.83 127.30,304.80 C128.67,303.77 130.12,303.20 131.40,302.70 C132.68,302.20 133.57,302.02 135.00,301.80 C136.43,301.58 137.55,301.38 140.00,301.40 C142.45,301.42 147.40,301.68 149.70,301.90 C152.00,302.12 152.43,302.35 153.80,302.70 C155.17,303.05 156.53,303.48 157.90,304.00 C159.27,304.52 160.80,305.13 162.00,305.80 C163.20,306.47 164.22,307.20 165.10,308.00 C165.98,308.80 166.65,309.60 167.30,310.60 C167.95,311.60 168.47,312.77 169.00,314.00 C169.53,315.23 170.02,316.62 170.50,318.00 C170.98,319.38 171.37,320.05 171.90,322.30 C172.43,324.55 173.07,328.13 173.70,331.50 C174.33,334.87 175.17,338.50 175.70,342.50 C176.23,346.50 176.50,350.92 176.90,355.50 C177.30,360.08 177.68,365.08 178.10,370.00 C178.52,374.92 179.00,380.00 179.40,385.00 C179.80,390.00 180.10,395.33 180.50,400.00 C180.90,404.67 181.33,409.00 181.80,413.00 C182.27,417.00 182.78,421.17 183.30,424.00 C183.82,426.83 184.40,429.67 184.90,430.00 C185.40,430.33 185.82,428.33 186.30,426.00 C186.78,423.67 187.32,420.00 187.80,416.00 C188.28,412.00 188.75,406.83 189.20,402.00 C189.65,397.17 190.07,391.67 190.50,387.00 C190.93,382.33 191.28,378.23 191.80,374.00 C192.32,369.77 192.90,365.70 193.60,361.60 C194.30,357.50 195.23,353.47 196.00,349.40 C196.77,345.33 197.58,340.43 198.20,337.20 C198.82,333.97 199.15,332.23 199.70,330.00 C200.25,327.77 200.87,325.50 201.50,323.80 C202.13,322.10 202.77,320.83 203.50,319.80 C204.23,318.77 205.08,318.10 205.90,317.60 C206.72,317.10 207.65,316.90 208.40,316.80 C209.15,316.70 209.63,316.75 210.40,317.00 C211.17,317.25 212.07,317.80 213.00,318.30 C213.93,318.80 215.08,319.30 216.00,320.00 C216.92,320.70 217.70,321.58 218.50,322.50 C219.30,323.42 219.97,324.88 220.80,325.50 C221.63,326.12 222.28,326.70 223.50,326.20 C224.72,325.70 226.49,324.28 228.10,322.50 C229.72,320.72 231.78,317.45 233.17,315.50 C234.56,313.55 235.30,312.22 236.43,310.80 C237.57,309.38 238.64,308.13 239.99,307.00 C241.33,305.87 243.00,304.78 244.52,304.00 C246.04,303.22 247.77,302.75 249.12,302.30 C250.46,301.85 251.46,301.38 252.60,301.30 C253.75,301.22 254.77,301.82 256.00,301.80 C257.23,301.78 258.33,301.17 260.00,301.20 C261.67,301.23 264.33,302.03 266.00,302.00 C267.67,301.97 268.17,301.08 270.00,301.00 C271.83,300.92 275.83,301.42 277.00,301.50" fill="none" stroke="#ff00ff" stroke-width="1.30" stroke-linejoin="round" stroke-linecap="round"/>
<path d="M88.50,301.40 C88.75,301.47 89.42,301.62 90.00,301.80 C90.58,301.98 90.97,302.18 92.00,302.50 C93.03,302.82 94.82,303.22 96.20,303.70 C97.58,304.18 98.93,304.70 100.30,305.40 C101.67,306.10 103.20,307.05 104.40,307.90 C105.60,308.75 106.47,309.57 107.50,310.50 C108.53,311.43 109.67,312.78 110.60,313.50 C111.53,314.22 112.28,314.80 113.10,314.80 C113.92,314.80 114.68,314.13 115.50,313.50 C116.32,312.87 117.08,312.00 118.00,311.00 C118.92,310.00 119.83,308.62 121.00,307.50 C122.17,306.38 123.67,305.13 125.00,304.30 C126.33,303.47 127.67,302.92 129.00,302.50 C130.33,302.08 131.17,302.00 133.00,301.80 C134.83,301.60 137.30,301.28 140.00,301.30 C142.70,301.32 146.98,301.67 149.20,301.90 C151.42,302.13 151.93,302.35 153.30,302.70 C154.67,303.05 156.03,303.48 157.40,304.00 C158.77,304.52 160.30,305.13 161.50,305.80 C162.70,306.47 163.72,307.20 164.60,308.00 C165.48,308.80 166.15,309.60 166.80,310.60 C167.45,311.60 167.97,312.77 168.50,314.00 C169.03,315.23 169.52,316.62 170.00,318.00 C170.48,319.38 170.87,320.05 171.40,322.30 C171.93,324.55 172.57,328.13 173.20,331.50 C173.83,334.87 174.67,338.50 175.20,342.50 C175.73,346.50 176.00,350.92 176.40,355.50 C176.80,360.08 177.18,365.08 177.60,370.00 C178.02,374.92 178.50,380.00 178.90,385.00 C179.30,390.00 179.62,395.17 180.00,400.00 C180.38,404.83 180.75,409.67 181.20,414.00 C181.65,418.33 182.20,422.70 182.70,426.00 C183.20,429.30 183.68,432.97 184.20,433.80 C184.72,434.63 185.30,433.13 185.80,431.00 C186.30,428.87 186.73,425.33 187.20,421.00 C187.67,416.67 188.13,410.17 188.60,405.00 C189.07,399.83 189.53,394.83 190.00,390.00 C190.47,385.17 190.87,380.67 191.40,376.00 C191.93,371.33 192.50,366.50 193.20,362.00 C193.90,357.50 194.82,353.17 195.60,349.00 C196.38,344.83 197.30,340.50 197.90,337.00 C198.50,333.50 198.80,330.42 199.20,328.00 C199.60,325.58 199.73,324.07 200.30,322.50 C200.87,320.93 201.80,319.70 202.60,318.60 C203.40,317.50 204.37,316.75 205.10,315.90 C205.83,315.05 206.38,313.70 207.00,313.50 C207.62,313.30 208.10,314.60 208.80,314.70 C209.50,314.80 210.28,313.90 211.20,314.10 C212.12,314.30 213.38,315.20 214.30,315.90 C215.22,316.60 215.88,317.68 216.70,318.30 C217.52,318.92 218.22,318.90 219.20,319.60 C220.18,320.30 221.50,322.60 222.60,322.50 C223.70,322.40 224.61,320.37 225.81,319.00 C227.01,317.63 228.69,315.38 229.81,314.30 C230.93,313.22 231.74,312.80 232.51,312.50 C233.27,312.20 233.64,313.08 234.38,312.50 C235.12,311.92 236.03,310.07 236.97,309.00 C237.90,307.93 238.73,306.97 239.99,306.10 C241.25,305.23 243.00,304.45 244.52,303.80 C246.04,303.15 247.63,302.63 249.12,302.20 C250.61,301.77 251.98,301.27 253.46,301.20 C254.94,301.13 256.24,301.78 258.00,301.80 C259.76,301.82 262.00,301.30 264.00,301.30 C266.00,301.30 267.83,301.78 270.00,301.80 C272.17,301.82 275.83,301.47 277.00,301.40" fill="none" stroke="#949430" stroke-width="1.30" stroke-linejoin="round" stroke-linecap="round"/>
<text x="71.7" y="302.1" class="pl">b</text>
<text x="139.95" y="479" class="ti">Temprature</text><text x="198.70" y="477.30" style="font-size:8.5px;font-weight:bold">(</text><text x="203.30" y="476.70" style="font-size:7px;stroke:#111;stroke-width:0.2px">°</text><text x="205.00" y="479.10" style="font-size:10px;stroke:#111;stroke-width:0.3px">C</text><text x="214.20" y="477.30" style="font-size:8.5px;font-weight:bold">)</text>
<g transform="translate(38.3,403.7) rotate(-90)"><text x="-0.17" y="0" class="ti" style="font-size:9.6px">DTG</text><text x="26.2" y="-2.0" style="font-size:9.5px;font-weight:bold">(</text><text x="29.1" y="0" class="ti" style="font-size:10.5px">%</text><text x="40.2" y="0" class="ti" style="font-size:9.5px">/</text><text x="42.96" y="0" class="ti" style="font-size:9.3px">min</text><text x="61.4" y="-2.0" style="font-size:9.5px;font-weight:bold">)</text></g>
</svg>
</body></html>
